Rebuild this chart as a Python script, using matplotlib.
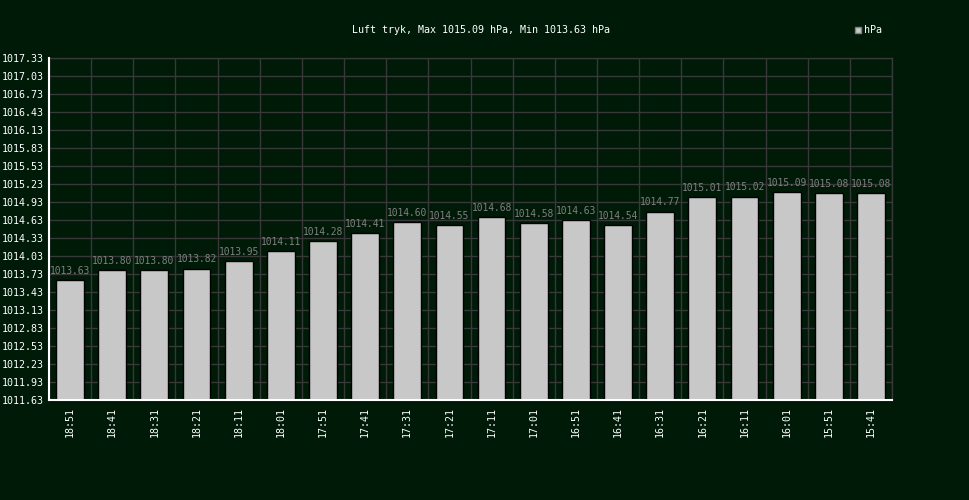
import matplotlib
matplotlib.use("Agg")
import matplotlib.pyplot as plt
from matplotlib.patches import Rectangle
import numpy as np

times = ["18:51", "18:41", "18:31", "18:21", "18:11", "18:01", "17:51", "17:41",
         "17:31", "17:21", "17:11", "17:01", "16:51", "16:41", "16:31", "16:21",
         "16:11", "16:01", "15:51", "15:41"]
pressure = [1013.63, 1013.80, 1013.80, 1013.82, 1013.95, 1014.11, 1014.28, 1014.41,
            1014.60, 1014.55, 1014.68, 1014.58, 1014.63, 1014.54, 1014.77, 1015.01,
            1015.02, 1015.09, 1015.08, 1015.08]
y_ticks = [1011.63, 1011.93, 1012.23, 1012.53, 1012.83, 1013.13, 1013.43, 1013.73,
           1014.03, 1014.33, 1014.63, 1014.93, 1015.23, 1015.53, 1015.83, 1016.13,
           1016.43, 1016.73, 1017.03, 1017.33]
title = "Luft tryk, Max 1015.09 hPa, Min 1013.63 hPa"
series_name = "hPa"

BG = "#001a08"
GRID = "#383838"
BAR = "#c8c8c8"
LBL = "#808080"
FONT = "DejaVu Sans Mono"
FS = 7.2

plt.rcParams["font.family"] = [FONT]

fig = plt.figure(figsize=(9.7, 5.0), dpi=100, facecolor=BG)
ax = fig.add_axes([49 / 970, 100 / 500, 843 / 970, 342 / 500], facecolor=BG)

x = np.arange(len(times))
ax.bar(x, pressure, width=0.66, bottom=0, color=BAR, edgecolor="black",
       linewidth=1.0, zorder=3)
ax.set_xlim(-0.5, len(times) - 0.5)
ax.set_ylim(y_ticks[0], y_ticks[-1])
ax.set_yticks(y_ticks)
ax.set_yticklabels([f"{v:.2f}" for v in y_ticks], color="white", fontsize=FS)
ax.set_xticks(x)
ax.set_xticklabels(times, rotation=90, color="white", fontsize=FS)
ax.set_xticks(np.arange(len(times) + 1) - 0.5, minor=True)

ax.tick_params(axis="both", which="both", length=0)
ax.tick_params(axis="y", pad=4)
ax.tick_params(axis="x", pad=5)
ax.grid(True, axis="y", which="major", color=GRID, linewidth=1.0, zorder=0)
ax.grid(True, axis="x", which="minor", color=GRID, linewidth=1.0, zorder=0)
ax.grid(False, axis="x", which="major")

for side in ("top", "right"):
    ax.spines[side].set_color(GRID)
    ax.spines[side].set_linewidth(1.0)
for side in ("left", "bottom"):
    ax.spines[side].set_color("white")
    ax.spines[side].set_linewidth(1.5)
    ax.spines[side].set_zorder(5)

for xi, v in zip(x, pressure):
    ax.annotate(f"{v:.2f}", (xi, v), xytext=(0, 3), textcoords="offset points",
                ha="center", va="bottom", color=LBL, fontsize=6.9, zorder=4)

fig.text(481 / 970, 1 - 30 / 500, title, ha="center", va="center",
         color="white", fontsize=FS)

fig.patches.append(Rectangle((855 / 970, 1 - 33 / 500), 6 / 970, 6 / 500,
                             transform=fig.transFigure, facecolor=BAR,
                             edgecolor="#808080", linewidth=1.0))
fig.text(864 / 970, 1 - 30 / 500, series_name, ha="left", va="center",
         color="white", fontsize=FS)

fig.savefig("out.png", dpi=100, facecolor=BG)
